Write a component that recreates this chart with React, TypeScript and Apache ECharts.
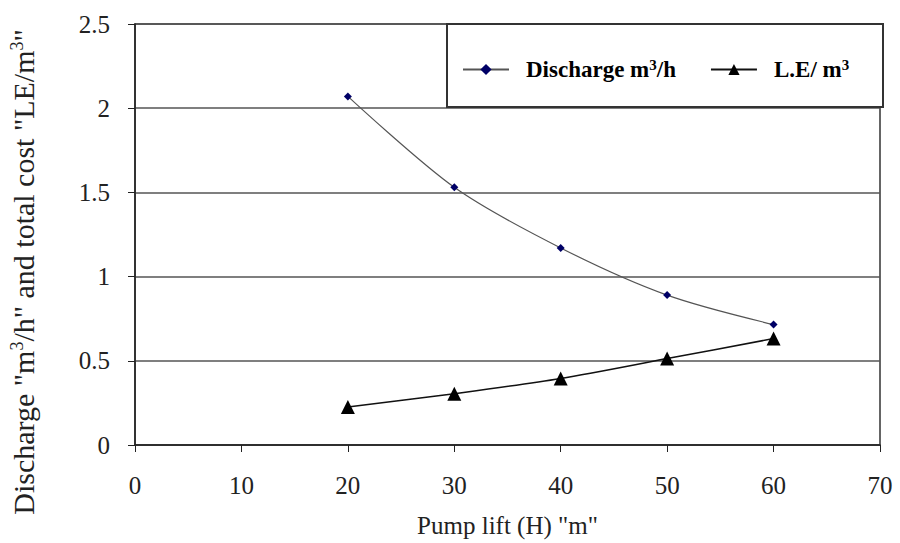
import React, { useEffect, useRef } from "react";
import * as echarts from "echarts";

const pumpLift = [20, 30, 40, 50, 60];
const discharge = [2.07, 1.53, 1.17, 0.89, 0.715];
const costPerM3 = [0.225, 0.305, 0.395, 0.513, 0.632];
const xTicks = { min: 0, max: 70, interval: 10 };
const yTicks = { min: 0, max: 2.5, interval: 0.5 };

const serif = "'Liberation Serif', 'Times New Roman', serif";

export default function App() {
  const ref = useRef<HTMLDivElement>(null);
  useEffect(() => {
    document.body.style.margin = "0";
    document.body.style.overflow = "hidden";
    document.documentElement.style.overflow = "hidden";
    const chart = echarts.init(ref.current!, null, { renderer: "svg" });
    chart.setOption({
      animation: false,
      backgroundColor: "#ffffff",
      textStyle: { fontFamily: serif },
      grid: {
        left: 135,
        right: 20,
        top: 24,
        bottom: 93,
        show: true,
        borderColor: "#333",
        borderWidth: 1.5,
        backgroundColor: "transparent",
      },
      xAxis: {
        type: "value",
        min: xTicks.min,
        max: xTicks.max,
        interval: xTicks.interval,
        name: 'Pump lift (H) "m"',
        nameLocation: "middle",
        nameGap: 68,
        nameTextStyle: { fontFamily: serif, fontSize: 25, color: "#222" },
        axisLine: { show: true, lineStyle: { color: "#222", width: 1.5 } },
        axisTick: { show: true, length: 7, lineStyle: { color: "#222" } },
        axisLabel: { fontFamily: serif, fontSize: 25, color: "#222", margin: 28 },
        splitLine: { show: false },
      },
      yAxis: {
        type: "value",
        min: yTicks.min,
        max: yTicks.max,
        interval: yTicks.interval,
        axisLine: { show: true, lineStyle: { color: "#222", width: 1.5 } },
        axisTick: { show: true, length: 7, lineStyle: { color: "#222" } },
        axisLabel: { fontFamily: serif, fontSize: 25, color: "#222", margin: 25 },
        splitLine: { show: true, lineStyle: { color: "#555", width: 1.5 } },
      },
      graphic: [
        {
          type: "rect",
          z: 3,
          shape: { x: 447, y: 24, width: 436, height: 83 },
          style: { fill: "#fff", stroke: "#333", lineWidth: 2 },
        },
        {
          type: "text",
          x: 23,
          y: 272,
          rotation: Math.PI / 2,
          z: 3,
          style: {
            text: 'Discharge "m{sup|3}/h" and total cost "LE/m{sup|3}"',
            fontFamily: serif,
            fontSize: 30,
            fill: "#222",
            align: "center",
            verticalAlign: "middle",
            rich: {
              sup: { fontFamily: serif, fontSize: 18, fill: "#222", padding: [0, 0, 13, 0] },
            },
          },
        },
      ],
      legend: {
        left: 457,
        top: 52,
        z: 5,
        itemWidth: 46,
        itemHeight: 14,
        itemGap: 34,
        textStyle: {
          fontFamily: serif,
          fontSize: 23,
          fontWeight: "bold",
          color: "#000",
          padding: [0, 0, 0, 12],
          rich: {
            sup: { fontFamily: serif, fontSize: 15, fontWeight: "bold", color: "#000", padding: [0, 0, 10, 0] },
          },
        },
        formatter: (name: string) =>
          name === "Discharge" ? "Discharge m{sup|3}/h" : "L.E/ m{sup|3}",
        data: ["Discharge", "LE"],
      },
      series: [
        {
          name: "Discharge",
          type: "line",
          data: pumpLift.map((x, i) => [x, discharge[i]]),
          smooth: 0.3,
          symbol: "diamond",
          symbolSize: 8,
          itemStyle: { color: "#000066" },
          lineStyle: { color: "#555", width: 1.2 },
        },
        {
          name: "LE",
          type: "line",
          data: pumpLift.map((x, i) => [x, costPerM3[i]]),
          smooth: 0.3,
          symbol: "triangle",
          symbolSize: 14,
          itemStyle: { color: "#000" },
          lineStyle: { color: "#111", width: 1.5 },
        },
      ],
    });
    return () => chart.dispose();
  }, []);
  return <div ref={ref} style={{ width: 900, height: 543 }} />;
}
